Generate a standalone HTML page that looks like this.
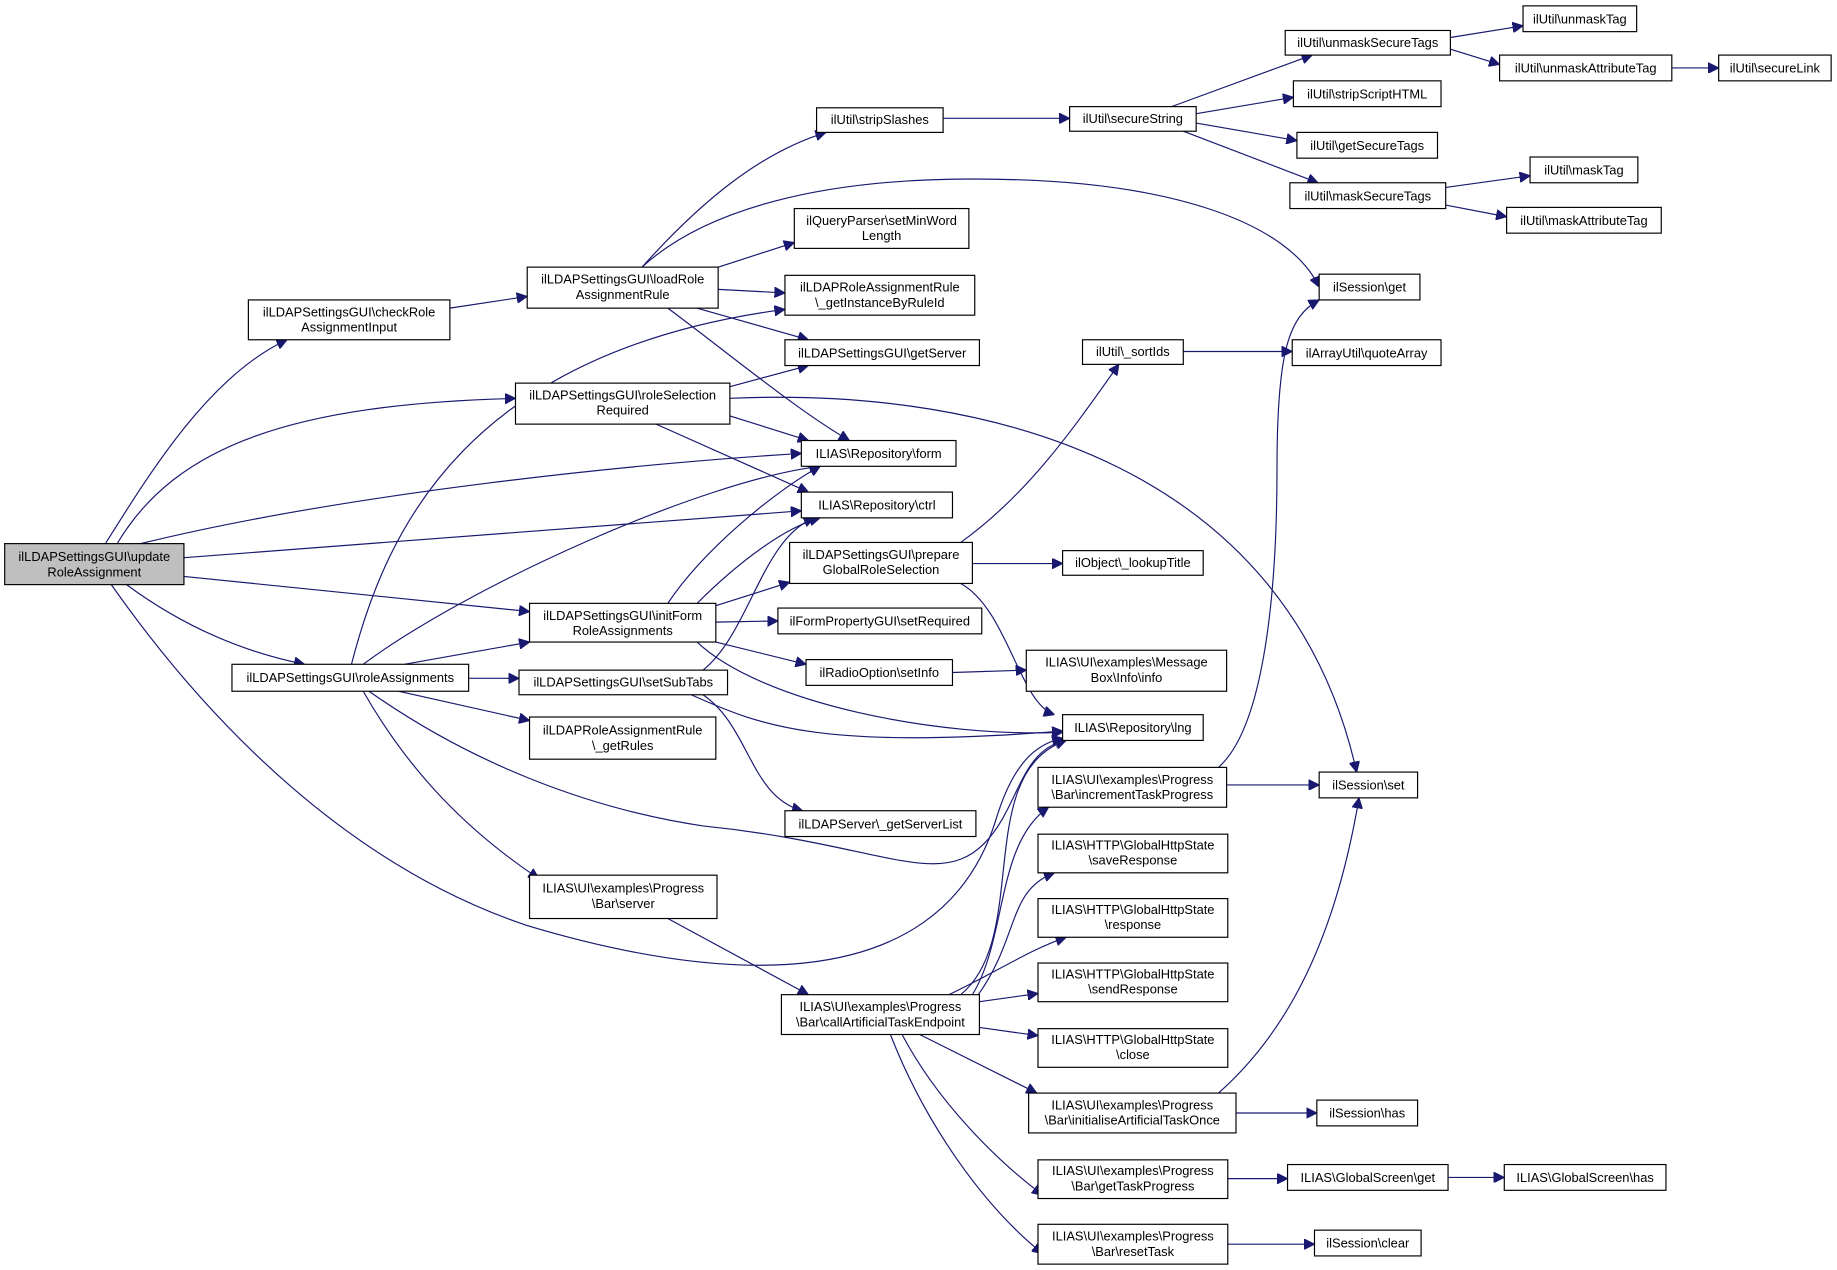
<!DOCTYPE html>
<html><head><meta charset="utf-8"><style>
html,body{margin:0;padding:0;background:#fff}
svg{display:block}
text{font-family:"Liberation Sans",sans-serif;font-size:11px;fill:#000;text-anchor:middle}
rect{fill:#fff;stroke:#000;stroke-width:1}
path{fill:none;stroke:#191970;stroke-width:1}
</style></head><body>
<svg width="1837" height="1270" viewBox="0 0 1568 1084" xmlns="http://www.w3.org/2000/svg">
<defs><marker id="a" viewBox="0 0 10 10" refX="10" refY="5" markerWidth="9" markerHeight="9" orient="auto" markerUnits="userSpaceOnUse"><path d="M0,0 L10,5 L0,10 z" style="fill:#191970;stroke:#191970"/></marker></defs>
<g marker-end="url(#a)">
<path d="M90,464 C130,400 180,320 245,290"/>
<path d="M100,464 C150,380 250,345 440,340"/>
<path d="M120,464 C300,420 550,395 684,387"/>
<path d="M157,476 L684,436"/>
<path d="M157,492 L452,522"/>
<path d="M108,499 C150,530 200,555 260,567"/>
<path d="M95,499 C180,620 300,740 450,790 C600,835 800,860 850,700 C865,650 885,635 907,630"/>
<path d="M384,263 L450,253"/>
<path d="M548,228 C600,170 650,130 705,113"/>
<path d="M548,228 C600,180 700,150 850,153 C1000,155 1100,190 1126,245"/>
<path d="M613,228 L678,207"/>
<path d="M613,247 L670,250"/>
<path d="M595,263 L690,290"/>
<path d="M570,263 C620,300 680,350 725,376"/>
<path d="M623,330 L690,312"/>
<path d="M623,355 L690,376"/>
<path d="M560,362 L690,420"/>
<path d="M623,340 C850,330 1100,400 1158,659"/>
<path d="M570,515 C600,470 660,420 700,398"/>
<path d="M595,515 C630,480 670,450 700,442"/>
<path d="M611,517 L674,497"/>
<path d="M611,531 L664,530"/>
<path d="M611,548 L688,567"/>
<path d="M595,548 C650,600 800,630 907,625"/>
<path d="M300,567 C330,450 400,300 670,264"/>
<path d="M310,567 C400,500 600,410 700,398"/>
<path d="M345,567 L452,548"/>
<path d="M400,579 L443,579"/>
<path d="M340,590 L452,615"/>
<path d="M310,590 C350,660 400,710 460,750"/>
<path d="M315,590 C400,650 500,690 600,705 C750,720 800,760 840,720 C870,690 870,640 910,632"/>
<path d="M600,572 C640,540 650,460 695,442"/>
<path d="M590,593 C650,620 700,640 907,624"/>
<path d="M600,593 C640,620 640,680 685,692"/>
<path d="M570,784 L690,849"/>
<path d="M820,463 C880,420 920,360 955,311"/>
<path d="M830,481 L907,481"/>
<path d="M820,498 C860,520 870,600 900,610"/>
<path d="M813,574 L876,572"/>
<path d="M820,849 C880,800 830,660 910,632"/>
<path d="M830,849 C860,800 850,720 895,689"/>
<path d="M835,849 C870,800 860,760 900,745"/>
<path d="M810,849 C850,830 880,810 910,800"/>
<path d="M836,855 L886,848"/>
<path d="M836,877 L886,884"/>
<path d="M785,883 L885,933"/>
<path d="M770,883 C800,940 850,990 890,1020"/>
<path d="M760,883 C790,960 840,1030 890,1070"/>
<path d="M805,101 L913,101"/>
<path d="M1000,91 L1120,47"/>
<path d="M1021,97 L1104,83"/>
<path d="M1021,105 L1107,120"/>
<path d="M1010,112 L1125,156"/>
<path d="M1238,32 L1300,22"/>
<path d="M1238,42 L1280,55"/>
<path d="M1427,58 L1467,58"/>
<path d="M1234,160 L1306,150"/>
<path d="M1234,175 L1286,185"/>
<path d="M1010,300 L1103,300"/>
<path d="M1047,670 L1126,670"/>
<path d="M1040,655 C1080,620 1090,500 1090,400 C1090,300 1100,270 1126,256"/>
<path d="M1040,933 C1100,880 1140,800 1160,681"/>
<path d="M1055,950 L1124,950"/>
<path d="M1048,1006 L1099,1006"/>
<path d="M1236,1005 L1284,1005"/>
<path d="M1048,1062 L1122,1062"/>
</g>
<g>
<rect x="4" y="464" width="153" height="35" style="fill:#bfbfbf"/><text x="80.5" y="479">ilLDAPSettingsGUI\update</text><text x="80.5" y="492">RoleAssignment</text>
<rect x="212" y="256" width="172" height="34"/><text x="298" y="270">ilLDAPSettingsGUI\checkRole</text><text x="298" y="283">AssignmentInput</text>
<rect x="450" y="228" width="163" height="35"/><text x="531.5" y="242">ilLDAPSettingsGUI\loadRole</text><text x="531.5" y="255">AssignmentRule</text>
<rect x="440" y="327" width="183" height="35"/><text x="531.5" y="341">ilLDAPSettingsGUI\roleSelection</text><text x="531.5" y="354">Required</text>
<rect x="452" y="515" width="159" height="33"/><text x="531.5" y="529">ilLDAPSettingsGUI\initForm</text><text x="531.5" y="542">RoleAssignments</text>
<rect x="198" y="567" width="202" height="23"/><text x="299" y="582">ilLDAPSettingsGUI\roleAssignments</text>
<rect x="443" y="572" width="178" height="21"/><text x="532" y="586">ilLDAPSettingsGUI\setSubTabs</text>
<rect x="452" y="612" width="159" height="36"/><text x="531.5" y="627">ilLDAPRoleAssignmentRule</text><text x="531.5" y="640">\_getRules</text>
<rect x="452" y="747" width="160" height="37"/><text x="532" y="762">ILIAS\UI\examples\Progress</text><text x="532" y="775">\Bar\server</text>
<rect x="697" y="92" width="108" height="21"/><text x="751" y="106">ilUtil\stripSlashes</text>
<rect x="678" y="178" width="149" height="34"/><text x="752.5" y="192">ilQueryParser\setMinWord</text><text x="752.5" y="205">Length</text>
<rect x="670" y="235" width="162" height="34"/><text x="751" y="249">ilLDAPRoleAssignmentRule</text><text x="751" y="262">\_getInstanceByRuleId</text>
<rect x="670" y="290" width="166" height="22"/><text x="753" y="305">ilLDAPSettingsGUI\getServer</text>
<rect x="684" y="376" width="132" height="22"/><text x="750" y="391">ILIAS\Repository\form</text>
<rect x="684" y="420" width="129" height="22"/><text x="748.5" y="435">ILIAS\Repository\ctrl</text>
<rect x="674" y="463" width="156" height="35"/><text x="752" y="477">ilLDAPSettingsGUI\prepare</text><text x="752" y="490">GlobalRoleSelection</text>
<rect x="664" y="519" width="174" height="22"/><text x="751" y="534">ilFormPropertyGUI\setRequired</text>
<rect x="688" y="563" width="125" height="22"/><text x="750.5" y="578">ilRadioOption\setInfo</text>
<rect x="670" y="692" width="163" height="22"/><text x="751.5" y="707">ilLDAPServer\_getServerList</text>
<rect x="667" y="849" width="169" height="34"/><text x="751.5" y="863">ILIAS\UI\examples\Progress</text><text x="751.5" y="876">\Bar\callArtificialTaskEndpoint</text>
<rect x="913" y="91" width="108" height="21"/><text x="967" y="105">ilUtil\secureString</text>
<rect x="924" y="290" width="86" height="21"/><text x="967" y="304">ilUtil\_sortIds</text>
<rect x="907" y="470" width="120" height="21"/><text x="967" y="484">ilObject\_lookupTitle</text>
<rect x="876" y="555" width="171" height="35"/><text x="961.5" y="569">ILIAS\UI\examples\Message</text><text x="961.5" y="582">Box\Info\info</text>
<rect x="907" y="610" width="120" height="22"/><text x="967" y="625">ILIAS\Repository\lng</text>
<rect x="886" y="655" width="161" height="34"/><text x="966.5" y="669">ILIAS\UI\examples\Progress</text><text x="966.5" y="682">\Bar\incrementTaskProgress</text>
<rect x="886" y="712" width="162" height="33"/><text x="967" y="725">ILIAS\HTTP\GlobalHttpState</text><text x="967" y="738">\saveResponse</text>
<rect x="886" y="767" width="162" height="33"/><text x="967" y="780">ILIAS\HTTP\GlobalHttpState</text><text x="967" y="793">\response</text>
<rect x="886" y="822" width="162" height="33"/><text x="967" y="835">ILIAS\HTTP\GlobalHttpState</text><text x="967" y="848">\sendResponse</text>
<rect x="886" y="878" width="162" height="33"/><text x="967" y="891">ILIAS\HTTP\GlobalHttpState</text><text x="967" y="904">\close</text>
<rect x="878" y="933" width="177" height="34"/><text x="966.5" y="947">ILIAS\UI\examples\Progress</text><text x="966.5" y="960">\Bar\initialiseArtificialTaskOnce</text>
<rect x="886" y="990" width="162" height="33"/><text x="967" y="1003">ILIAS\UI\examples\Progress</text><text x="967" y="1016">\Bar\getTaskProgress</text>
<rect x="886" y="1045" width="162" height="34"/><text x="967" y="1059">ILIAS\UI\examples\Progress</text><text x="967" y="1072">\Bar\resetTask</text>
<rect x="1097" y="26" width="141" height="21"/><text x="1167.5" y="40">ilUtil\unmaskSecureTags</text>
<rect x="1104" y="69" width="126" height="22"/><text x="1167" y="84">ilUtil\stripScriptHTML</text>
<rect x="1107" y="113" width="120" height="22"/><text x="1167" y="128">ilUtil\getSecureTags</text>
<rect x="1101" y="156" width="133" height="22"/><text x="1167.5" y="171">ilUtil\maskSecureTags</text>
<rect x="1126" y="234" width="86" height="22"/><text x="1169" y="249">ilSession\get</text>
<rect x="1103" y="290" width="127" height="22"/><text x="1166.5" y="305">ilArrayUtil\quoteArray</text>
<rect x="1126" y="659" width="84" height="22"/><text x="1168" y="674">ilSession\set</text>
<rect x="1124" y="939" width="86" height="22"/><text x="1167" y="954">ilSession\has</text>
<rect x="1099" y="994" width="137" height="22"/><text x="1167.5" y="1009">ILIAS\GlobalScreen\get</text>
<rect x="1122" y="1050" width="91" height="22"/><text x="1167.5" y="1065">ilSession\clear</text>
<rect x="1300" y="5" width="97" height="22"/><text x="1348.5" y="20">ilUtil\unmaskTag</text>
<rect x="1280" y="47" width="147" height="22"/><text x="1353.5" y="62">ilUtil\unmaskAttributeTag</text>
<rect x="1467" y="47" width="96" height="22"/><text x="1515" y="62">ilUtil\secureLink</text>
<rect x="1306" y="134" width="92" height="22"/><text x="1352" y="149">ilUtil\maskTag</text>
<rect x="1286" y="177" width="132" height="22"/><text x="1352" y="192">ilUtil\maskAttributeTag</text>
<rect x="1284" y="994" width="138" height="22"/><text x="1353" y="1009">ILIAS\GlobalScreen\has</text>
</g>
</svg>
</body></html>
